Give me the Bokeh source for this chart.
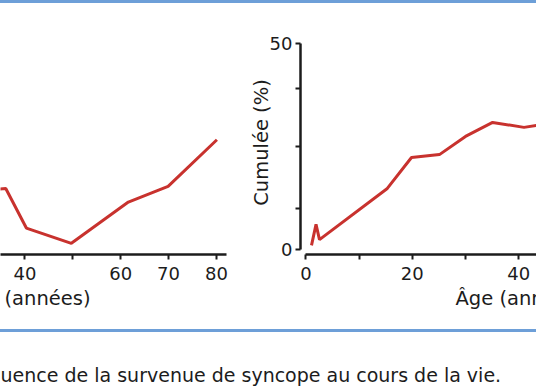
from bokeh.plotting import figure
from bokeh.models import FixedTicker, Label, Div, Range1d, Title
from bokeh.layouts import column, row
from bokeh.embed import file_html
from bokeh.resources import INLINE

# ---------------- data ----------------
left_age = [30, 36.0, 40.3, 49.7, 61.6, 69.9, 80.1]
left_pct = [14.2, 14.8, 5.2, 1.5, 11.5, 15.3, 26.6]

right_age = [1.05, 1.9, 2.55, 15.3, 19.85, 25.1, 30.0, 35.1, 41.0, 44.0]
right_pct = [1.0, 6.1, 2.4, 14.8, 22.3, 23.0, 27.4, 30.8, 29.6, 30.2]

age_ticks = [0, 10, 20, 30, 40, 50, 60, 70, 80]
left_hidden_tick_labels = [50]
right_hidden_tick_labels = [10, 30, 50, 70]
pct_ticks = [0, 10, 25, 39, 50]
pct_labelled = [0, 50]

x_title = "Âge (années)"
x_title_left_visible = "(années)"
y_title = "Cumulée (%)"
caption_visible = "uence de la survenue de syncope au cours de la vie."

# ---------------- style ----------------
RED = "#c8322e"
BLUE = "#6d9fd8"
INK = "#1c1c1c"
FONT = "DejaVu Sans"
TICK_SIZE = "18px"
TITLE_SIZE = "19.5px"


def style_axis(ax):
    ax.axis_line_width = 2.5
    ax.axis_line_color = INK
    ax.major_tick_line_width = 2
    ax.major_tick_line_color = INK
    ax.major_tick_out = 5
    ax.major_tick_in = 0
    ax.minor_tick_out = 0
    ax.minor_tick_in = 0
    ax.major_label_text_font = FONT
    ax.major_label_text_font_size = TICK_SIZE
    ax.major_label_text_color = INK


def style_xaxis(ax, hidden):
    ax.ticker = FixedTicker(ticks=age_ticks)
    ax.major_label_overrides = {t: "" for t in hidden}
    style_axis(ax)
    ax.major_label_standoff = 7


def base_fig(width, min_left, min_right, xr, yaxis):
    p = figure(width=width, height=326, x_range=xr,
               y_range=Range1d(-1.21, 53.08),
               output_backend="svg", toolbar_location=None,
               y_axis_location="left" if yaxis else None,
               min_border_left=min_left, min_border_right=min_right,
               min_border_top=27, min_border_bottom=75)
    p.grid.visible = False
    p.outline_line_color = None
    p.background_fill_color = "white"
    p.border_fill_color = "white"
    return p


def x_title_below(p, offset, text):
    p.add_layout(Title(text=text, align="left", offset=offset, standoff=5,
                       text_font=FONT, text_font_size=TITLE_SIZE,
                       text_font_style="normal", text_color=INK), "below")


# ---------------- left panel ----------------
left = base_fig(240, 0, 14, Range1d(34.9, 82.1), False)
left.line(left_age, left_pct, line_color=RED, line_width=3)
style_xaxis(left.xaxis[0], left_hidden_tick_labels)
x_title_below(left, 4, x_title_left_visible)

# ---------------- right panel ----------------
right = base_fig(296, 60, 0, Range1d(-1.02, 43.35), True)
right.line(right_age, right_pct, line_color=RED, line_width=3)
style_xaxis(right.xaxis[0], right_hidden_tick_labels)
right.xaxis[0].bounds = (0, 80)
ya = right.yaxis[0]
ya.ticker = FixedTicker(ticks=pct_ticks)
ya.major_label_overrides = {t: "" for t in pct_ticks if t not in pct_labelled}
ya.bounds = (0, 50)
style_axis(ya)
ya.major_label_standoff = 3
ya.axis_label = y_title
ya.axis_label_text_font = FONT
ya.axis_label_text_font_size = TITLE_SIZE
ya.axis_label_text_font_style = "normal"
ya.axis_label_text_color = INK
ya.axis_label_standoff = -6
x_title_below(right, 155, x_title)

# ---------------- frame lines and caption ----------------
top_line = Div(text="", width=536, height=3, margin=0,
               styles={"background-color": BLUE})
bottom_line = Div(text="", width=536, height=3, margin=0,
                  styles={"background-color": BLUE})

cap = figure(width=536, height=54, x_range=Range1d(0, 1), y_range=Range1d(0, 1),
             output_backend="svg", toolbar_location=None, min_border=0,
             x_axis_location=None, y_axis_location=None)
cap.grid.visible = False
cap.outline_line_color = None
cap.add_layout(Label(x=0, y=12, x_units="screen", y_units="screen",
                     text=caption_visible, text_font=FONT,
                     text_font_size="19px", text_color=INK,
                     text_baseline="alphabetic", text_align="left"))

layout = column(top_line, row(left, right, spacing=0), bottom_line, cap,
                spacing=0)

open("out.html", "w").write(file_html(layout, INLINE))
